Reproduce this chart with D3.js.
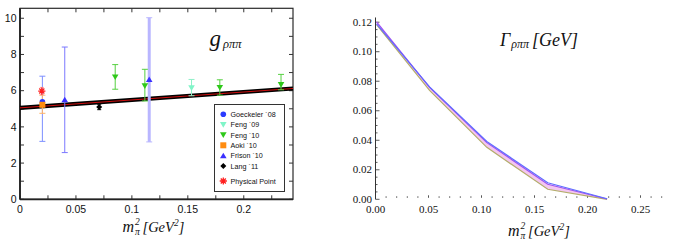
<!DOCTYPE html>
<html><head><meta charset="utf-8">
<script src="https://cdn.jsdelivr.net/npm/d3@7"></script>
<style>body{margin:0;background:#fff}svg{display:block}</style>
</head><body><svg id="c" width="678" height="245"></svg>
<script>
// ---------- data: left panel (g_rho pi pi) ----------
const xTicksL = [0, 0.05, 0.1, 0.15, 0.2];
const xTickLabelsL = ["0", "0.05", "0.1", "0.15", "0.2"];
const yTicksL = [0, 2, 4, 6, 8, 10];
const fitX = [0, 0.244];
const fitY = [5.05, 6.12];
const legendNames = ["Goeckeler ´08", "Feng ´09", "Feng ´10", "Aoki ´10", "Frison ´10", "Lang ´11", "Physical Point"];
const goeckeler = [{x: 0.02, y: 5.38, lo: 3.2, hi: 6.8}];
const feng09 = [{x: 0.1533, y: 6.15, lo: 5.72, hi: 6.62}];
const feng10 = [
  {x: 0.0851, y: 6.75, lo: 6.08, hi: 7.44},
  {x: 0.1116, y: 6.26, lo: 5.43, hi: 7.18},
  {x: 0.1786, y: 6.17, lo: 5.75, hi: 6.6},
  {x: 0.2333, y: 6.33, lo: 6.05, hi: 6.9}];
const aoki = [{x: 0.02, y: 5.22, lo: 4.75, hi: 5.75}];
const frison = [
  {x: 0.04, y: 5.5, lo: 2.58, hi: 8.41},
  {x: 0.1155, y: 6.62, lo: 3.17, hi: 10.03}];
const lang = [{x: 0.0708, y: 5.1, lo: 4.95, hi: 5.25}];
const physical = [{x: 0.0195, y: 5.98, lo: 5.78, hi: 6.18}];

// ---------- data: right panel (Gamma_rho pi pi) ----------
const gammaX      = [0.001, 0.051, 0.105, 0.1625, 0.2185];
const gammaBlue   = [0.1188, 0.0762, 0.0392, 0.0112, 0.0004];
const gammaPurple = [0.1203, 0.0758, 0.0384, 0.0102, 0.0002];
const gammaOlive  = [0.1183, 0.0738, 0.0352, 0.0068, 0.0];
const xTicksR = [0, 0.05, 0.1, 0.15, 0.2, 0.25];
const yTicksR = [0, 0.02, 0.04, 0.06, 0.08, 0.1, 0.12];

const svg = d3.select("#c");

// ================= LEFT PANEL =================
const xL = d3.scaleLinear().domain([0, 0.244]).range([20, 293]);
const yL = d3.scaleLinear().domain([0, 10.55]).range([199.3, 8.3]);
const L = svg.append("g");

// frame
L.append("rect").attr("x", xL(0)).attr("y", yL(10.55))
  .attr("width", xL(0.244) - xL(0)).attr("height", yL(0) - yL(10.55))
  .attr("fill", "none").attr("stroke", "#2a2a2a").attr("stroke-width", 1.2);

// ticks
const xt = d3.range(0, 0.244, 0.025);
xt.forEach(v => {
  L.append("line").attr("x1", xL(v)).attr("x2", xL(v)).attr("y1", yL(0)).attr("y2", yL(0) - 4).attr("stroke", "#333");
  L.append("line").attr("x1", xL(v)).attr("x2", xL(v)).attr("y1", yL(10.55)).attr("y2", yL(10.55) + 4).attr("stroke", "#333");
});
d3.range(0, 11, 1).forEach(v => {
  L.append("line").attr("x1", xL(0)).attr("x2", xL(0) + 4).attr("y1", yL(v)).attr("y2", yL(v)).attr("stroke", "#333");
  L.append("line").attr("x1", xL(0.244)).attr("x2", xL(0.244) - 4).attr("y1", yL(v)).attr("y2", yL(v)).attr("stroke", "#333");
});
L.append("line").attr("x1", xL(0)).attr("x2", xL(0.244)).attr("y1", yL(0)).attr("y2", yL(0)).attr("stroke", "#222").attr("stroke-width", 1.8);
L.append("line").attr("x1", xL(0)).attr("x2", xL(0)).attr("y1", yL(0)).attr("y2", yL(10.55)).attr("stroke", "#222").attr("stroke-width", 1.8);

xTicksL.forEach((v, i) => {
  L.append("text").attr("x", xL(v)).attr("y", 213).attr("text-anchor", "middle")
    .attr("font-family", "Liberation Sans").attr("font-size", 10.5).attr("fill", "#111").text(xTickLabelsL[i]);
});
yTicksL.forEach(v => {
  L.append("text").attr("x", 16.5).attr("y", yL(v)).attr("dy", "0.36em").attr("text-anchor", "end")
    .attr("font-family", "Liberation Sans").attr("font-size", 10.5).attr("fill", "#111").text(v);
});

// fit band
const fitLine = d3.line().x(d => xL(d[0])).y(d => yL(d[1]));
const fitPts = fitX.map((x, i) => [x, fitY[i]]);
L.append("path").attr("d", fitLine(fitPts)).attr("stroke", "#000").attr("stroke-width", 4.2).attr("fill", "none");
L.append("path").attr("d", fitLine(fitPts)).attr("stroke", "#d01010").attr("stroke-width", 1).attr("fill", "none");

// error bars
function errBars(data, color, width, cap) {
  data.forEach(d => {
    L.append("line").attr("x1", xL(d.x)).attr("x2", xL(d.x)).attr("y1", yL(d.lo)).attr("y2", yL(d.hi))
      .attr("stroke", color).attr("stroke-width", width);
    [d.lo, d.hi].forEach(v => L.append("line").attr("x1", xL(d.x) - cap).attr("x2", xL(d.x) + cap)
      .attr("y1", yL(v)).attr("y2", yL(v)).attr("stroke", color).attr("stroke-width", 1));
  });
}
errBars([frison[1]], "#b9b6ff", 3, 3);
errBars([frison[0]], "#7b78ff", 1, 3);
errBars(goeckeler, "#7d8fff", 1, 3);
errBars(aoki, "#ffb366", 1, 3);
errBars(feng10, "#55d040", 1, 3);
errBars(feng09, "#8ff0c8", 1, 3);
errBars(lang, "#000", 1, 2);
errBars(physical, "#ff9a9a", 1, 2);

// markers
const triDown = (cx, cy, s) => `M${cx - s},${cy - s * 0.8}L${cx + s},${cy - s * 0.8}L${cx},${cy + s * 0.9}Z`;
const triUp = (cx, cy, s) => `M${cx - s},${cy + s * 0.8}L${cx + s},${cy + s * 0.8}L${cx},${cy - s * 0.9}Z`;
const diamond = (cx, cy, s) => `M${cx},${cy - s}L${cx + s},${cy}L${cx},${cy + s}L${cx - s},${cy}Z`;
const star = (cx, cy, s) => {
  let p = "";
  for (let k = 0; k < 4; k++) {
    const a = k * Math.PI / 4;
    p += `M${cx - s * Math.cos(a)},${cy - s * Math.sin(a)}L${cx + s * Math.cos(a)},${cy + s * Math.sin(a)}`;
  }
  return p;
};
const mk = {
  goeck: (g, cx, cy) => g.append("circle").attr("cx", cx).attr("cy", cy).attr("r", 2.8).attr("fill", "#2b3cff"),
  feng09: (g, cx, cy) => g.append("path").attr("d", triDown(cx, cy, 3.3)).attr("fill", "#80f5c8"),
  feng10: (g, cx, cy) => g.append("path").attr("d", triDown(cx, cy, 3.3)).attr("fill", "#2fc81a"),
  aoki: (g, cx, cy) => g.append("rect").attr("x", cx - 3).attr("y", cy - 3).attr("width", 6).attr("height", 6).attr("fill", "#ff8c10"),
  frison: (g, cx, cy) => g.append("path").attr("d", triUp(cx, cy, 3.3)).attr("fill", "#3a30ff"),
  lang: (g, cx, cy) => g.append("path").attr("d", diamond(cx, cy, 3)).attr("fill", "#000"),
  phys: (g, cx, cy) => g.append("path").attr("d", star(cx, cy, 3.6)).attr("stroke", "#ff2020").attr("stroke-width", 1.3).attr("fill", "none")
};
goeckeler.forEach(d => mk.goeck(L, xL(d.x), yL(d.y)));
aoki.forEach(d => mk.aoki(L, xL(d.x), yL(d.y)));
frison.forEach(d => mk.frison(L, xL(d.x), yL(d.y)));
lang.forEach(d => mk.lang(L, xL(d.x), yL(d.y)));
feng10.forEach(d => mk.feng10(L, xL(d.x), yL(d.y)));
feng09.forEach(d => mk.feng09(L, xL(d.x), yL(d.y)));
physical.forEach(d => mk.phys(L, xL(d.x), yL(d.y)));

// legend
L.append("rect").attr("x", 214.5).attr("y", 104.5).attr("width", 70).attr("height", 87)
  .attr("fill", "#fff").attr("stroke", "#333").attr("stroke-width", 1);
const legY = [114.3, 124.7, 135, 145.3, 155.7, 166, 181];
const legMk = [mk.goeck, mk.feng09, mk.feng10, mk.aoki, mk.frison, mk.lang, mk.phys];
legendNames.forEach((n, i) => {
  legMk[i](L, 223.3, legY[i]);
  L.append("text").attr("x", 230.5).attr("y", legY[i]).attr("dy", "0.35em")
    .attr("font-family", "Liberation Sans").attr("font-size", 7.2).attr("fill", "#111").text(n);
});

// title g_{rho pi pi}
L.append("text").attr("x", 209.5).attr("y", 46).attr("font-family", "Liberation Serif").attr("font-style", "italic")
  .attr("font-size", 23).attr("fill", "#111").text("g");
L.append("text").attr("x", 223).attr("y", 48).attr("font-family", "Liberation Serif").attr("font-style", "italic")
  .attr("font-size", 12.5).attr("fill", "#111").text("ρππ");

// x label
function mLabel(g, x0, base) {
  g.append("text").attr("x", x0).attr("y", base).attr("font-family", "Liberation Serif").attr("font-style", "italic")
    .attr("font-size", 16).attr("fill", "#111").text("m");
  g.append("text").attr("x", x0 + 12.5).attr("y", base - 7).attr("font-family", "Liberation Serif").attr("font-style", "italic")
    .attr("font-size", 9.5).attr("fill", "#111").text("2");
  g.append("text").attr("x", x0 + 12.5).attr("y", base + 3).attr("font-family", "Liberation Serif").attr("font-style", "italic")
    .attr("font-size", 9.5).attr("fill", "#111").text("π");
  const t = g.append("text").attr("x", x0 + 20).attr("y", base).attr("font-family", "Liberation Serif").attr("font-style", "italic")
    .attr("font-size", 14.5).attr("fill", "#111");
  t.append("tspan").text("[GeV");
  t.append("tspan").attr("font-size", 9.5).attr("dy", -6).text("2");
  t.append("tspan").attr("dy", 6).text("]");
}
mLabel(L, 122.5, 232);

// ================= RIGHT PANEL =================
const xR = d3.scaleLinear().domain([0, 0.275]).range([375.5, 667]);
const yR = d3.scaleLinear().domain([0, 0.12]).range([199.3, 22.2]);
const R = svg.append("g");

// y axis
R.append("line").attr("x1", xR(0)).attr("x2", xR(0)).attr("y1", yR(0)).attr("y2", yR(0.1232)).attr("stroke", "#333").attr("stroke-width", 1);
d3.range(0, 0.1226, 0.005).forEach((v, i) => {
  const major = i % 4 === 0;
  R.append("line").attr("x1", xR(0)).attr("x2", xR(0) + (major ? 4 : 2)).attr("y1", yR(v)).attr("y2", yR(v))
    .attr("stroke", "#333").attr("stroke-width", 0.8);
});
yTicksR.forEach(v => {
  R.append("text").attr("x", 372).attr("y", yR(v)).attr("dy", "0.33em").attr("text-anchor", "end")
    .attr("font-family", "Liberation Serif").attr("font-size", 11).attr("fill", "#111").text(d3.format(".2f")(v));
});
// x ticks (dots)
d3.range(1, 28).forEach(k => {
  const v = k / 100;
  const major = k % 5 === 0;
  R.append("line").attr("x1", xR(v)).attr("x2", xR(v)).attr("y1", yR(0) - 1.5).attr("y2", yR(0) - (major ? 4 : 3))
    .attr("stroke", "#444").attr("stroke-width", 0.9);
});
xTicksR.forEach(v => {
  R.append("text").attr("x", xR(v)).attr("y", 213).attr("text-anchor", "middle")
    .attr("font-family", "Liberation Serif").attr("font-size", 11).attr("fill", "#111").text(d3.format(".2f")(v));
});

// band
const band = d3.area().x((d, i) => xR(gammaX[i])).y0((d, i) => yR(gammaOlive[i])).y1((d, i) => yR(gammaPurple[i]));
R.append("path").attr("d", band(gammaX)).attr("fill", "#f3c6f0");
const gl = arr => d3.line().x((d, i) => xR(gammaX[i])).y((d, i) => yR(arr[i]))(gammaX);
R.append("path").attr("d", gl(gammaOlive)).attr("stroke", "#b3ad6a").attr("stroke-width", 1.2).attr("fill", "none");
R.append("path").attr("d", gl(gammaPurple)).attr("stroke", "#a050f0").attr("stroke-width", 1.2).attr("fill", "none");
R.append("path").attr("d", gl(gammaBlue)).attr("stroke", "#5f6cff").attr("stroke-width", 1.2).attr("fill", "none");

// title Gamma
const tt = R.append("text").attr("x", 500).attr("y", 46).attr("font-family", "Liberation Serif").attr("font-style", "italic")
  .attr("font-size", 18).attr("fill", "#111");
tt.append("tspan").text("Γ");
tt.append("tspan").attr("font-size", 12).attr("dy", 2).attr("dx", 1).text("ρππ");
tt.append("tspan").attr("dy", -2).attr("dx", 3).text("[GeV]");

mLabel(R, 508, 236);
</script></body></html>
